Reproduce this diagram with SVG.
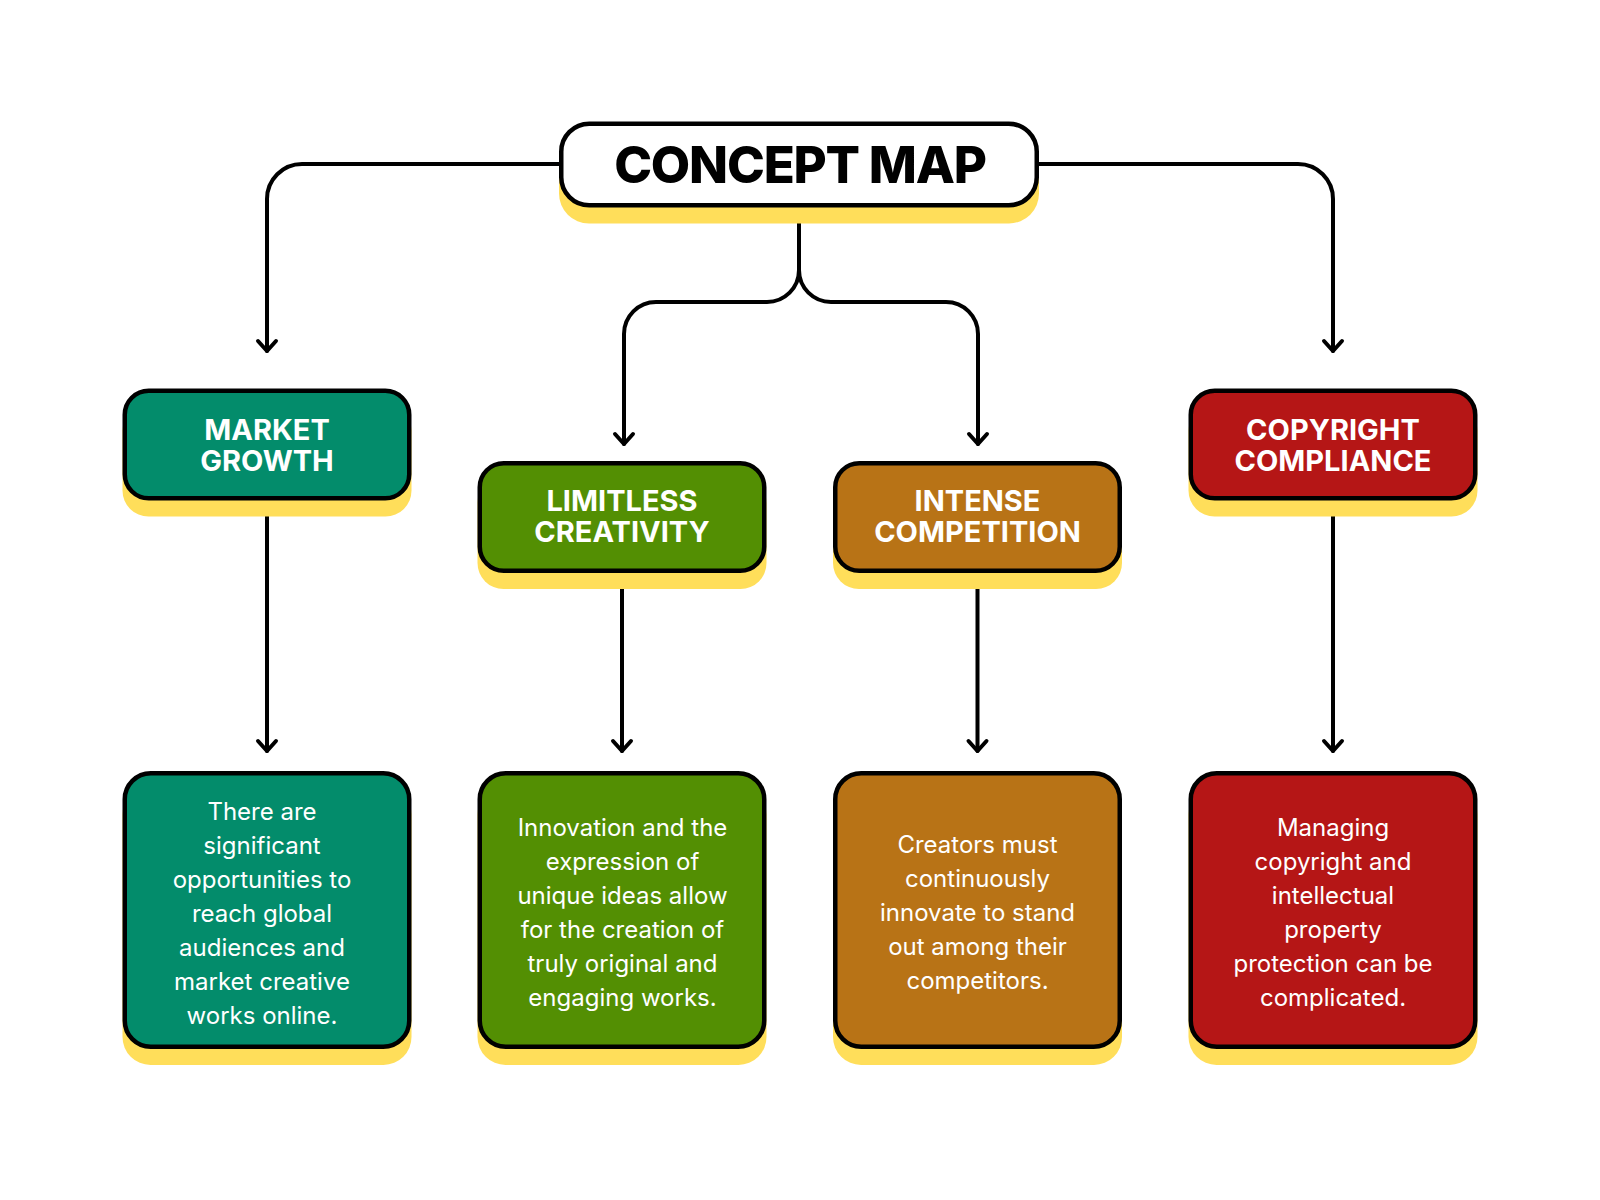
<svg xmlns="http://www.w3.org/2000/svg" width="1600" height="1200" viewBox="0 0 1600 1200">
  <defs>
    <style>
      .shadow { fill: #FFDE5A; }
      .box { stroke: #000; stroke-width: 4.5; }
      .teal { fill: #038C6B; }
      .green { fill: #538F03; }
      .orange { fill: #B87316; }
      .red { fill: #B51616; }
      .title { font-family: Inter, "Liberation Sans", sans-serif; font-weight: 800; font-size: 51px; fill: #000; text-anchor: middle; letter-spacing: -1.2px; }
      .label { font-family: Inter, "Liberation Sans", sans-serif; font-weight: 700; font-size: 29px; fill: #fff; text-anchor: middle; }
      .body { font-family: Inter, "Liberation Sans", sans-serif; font-weight: 400; font-size: 24px; fill: #fff; text-anchor: middle; }
      .conn { fill: none; stroke: #000; stroke-width: 4; stroke-linecap: round; stroke-linejoin: round; }
    </style>
    <marker id="arrow" markerUnits="userSpaceOnUse" markerWidth="24" markerHeight="24" refX="0" refY="0" orient="auto" overflow="visible" viewBox="-12 -12 24 24">
      <path d="M-10,-9 L0,0 L-10,9" fill="none" stroke="#000" stroke-width="4" stroke-linecap="round" stroke-linejoin="round"/>
    </marker>
  </defs>

  <rect width="1600" height="1200" fill="#fff"/>

  <g id="connectors">
    <path class="conn" d="M559,164 H302 A35,35 0 0 0 267,199 V351" marker-end="url(#arrow)"/>
    <path class="conn" d="M1039,164 H1298 A35,35 0 0 1 1333,199 V351" marker-end="url(#arrow)"/>
    <path class="conn" d="M799,207 V270 A32,32 0 0 1 767,302 H656 A32,32 0 0 0 624,334 V444" marker-end="url(#arrow)"/>
    <path class="conn" d="M799,270 A32,32 0 0 0 831,302 H946 A32,32 0 0 1 978,334 V444" marker-end="url(#arrow)"/>
    <path class="conn" d="M267,500 V751" marker-end="url(#arrow)"/>
    <path class="conn" d="M622,573 V751" marker-end="url(#arrow)"/>
    <path class="conn" d="M977.5,573 V751" marker-end="url(#arrow)"/>
    <path class="conn" d="M1333,500 V751" marker-end="url(#arrow)"/>
  </g>

  <g id="concept-map">
    <rect class="shadow" x="559" y="137.5" width="480" height="86" rx="30"/>
    <rect class="box" x="561.25" y="123.75" width="475.5" height="81.5" rx="28" fill="#fff"/>
    <text class="title" x="800" y="183">CONCEPT MAP</text>
  </g>

  <g id="market-growth">
    <rect class="shadow" x="122.5" y="404.5" width="289" height="112" rx="26"/>
    <rect class="box teal" x="124.75" y="390.75" width="284.5" height="107.5" rx="24"/>
    <text class="label" x="267" y="439.5"><tspan x="267">MARKET</tspan><tspan x="267" dy="31">GROWTH</tspan></text>
  </g>

  <g id="limitless-creativity">
    <rect class="shadow" x="477.5" y="477" width="289" height="112" rx="26"/>
    <rect class="box green" x="479.75" y="463.25" width="284.5" height="107.5" rx="24"/>
    <text class="label" x="622" y="510.5"><tspan x="622">LIMITLESS</tspan><tspan x="622" dy="31">CREATIVITY</tspan></text>
  </g>

  <g id="intense-competition">
    <rect class="shadow" x="833" y="477" width="289" height="112" rx="26"/>
    <rect class="box orange" x="835.25" y="463.25" width="284.5" height="107.5" rx="24"/>
    <text class="label" x="977.5" y="510.5"><tspan x="977.5">INTENSE</tspan><tspan x="977.5" dy="31">COMPETITION</tspan></text>
  </g>

  <g id="copyright-compliance">
    <rect class="shadow" x="1188.5" y="404.5" width="289" height="112" rx="26"/>
    <rect class="box red" x="1190.75" y="390.75" width="284.5" height="107.5" rx="24"/>
    <text class="label" x="1333" y="439.5"><tspan x="1333">COPYRIGHT</tspan><tspan x="1333" dy="31">COMPLIANCE</tspan></text>
  </g>

  <g id="market-growth-detail">
    <rect class="shadow" x="122.5" y="787" width="289" height="278" rx="28"/>
    <rect class="box teal" x="124.75" y="773.25" width="284.5" height="273.5" rx="26"/>
    <text class="body" x="262" y="819.5">There are</text>
    <text class="body" x="262" y="853.5">significant</text>
    <text class="body" x="262" y="887.5">opportunities to</text>
    <text class="body" x="262" y="921.5">reach global</text>
    <text class="body" x="262" y="955.5">audiences and</text>
    <text class="body" x="262" y="989.5">market creative</text>
    <text class="body" x="262" y="1023.5">works online.</text>
  </g>

  <g id="limitless-creativity-detail">
    <rect class="shadow" x="477.5" y="787" width="289" height="278" rx="28"/>
    <rect class="box green" x="479.75" y="773.25" width="284.5" height="273.5" rx="26"/>
    <text class="body" x="622.5" y="836">Innovation and the</text>
    <text class="body" x="622.5" y="870">expression of</text>
    <text class="body" x="622.5" y="904">unique ideas allow</text>
    <text class="body" x="622.5" y="938">for the creation of</text>
    <text class="body" x="622.5" y="972">truly original and</text>
    <text class="body" x="622.5" y="1006">engaging works.</text>
  </g>

  <g id="intense-competition-detail">
    <rect class="shadow" x="833" y="787" width="289" height="278" rx="28"/>
    <rect class="box orange" x="835.25" y="773.25" width="284.5" height="273.5" rx="26"/>
    <text class="body" x="977.5" y="853">Creators must</text>
    <text class="body" x="977.5" y="887">continuously</text>
    <text class="body" x="977.5" y="921">innovate to stand</text>
    <text class="body" x="977.5" y="955">out among their</text>
    <text class="body" x="977.5" y="989">competitors.</text>
  </g>

  <g id="copyright-compliance-detail">
    <rect class="shadow" x="1188.5" y="787" width="289" height="278" rx="28"/>
    <rect class="box red" x="1190.75" y="773.25" width="284.5" height="273.5" rx="26"/>
    <text class="body" x="1333" y="836">Managing</text>
    <text class="body" x="1333" y="870">copyright and</text>
    <text class="body" x="1333" y="904">intellectual</text>
    <text class="body" x="1333" y="938">property</text>
    <text class="body" x="1333" y="972">protection can be</text>
    <text class="body" x="1333" y="1006">complicated.</text>
  </g>
</svg>
